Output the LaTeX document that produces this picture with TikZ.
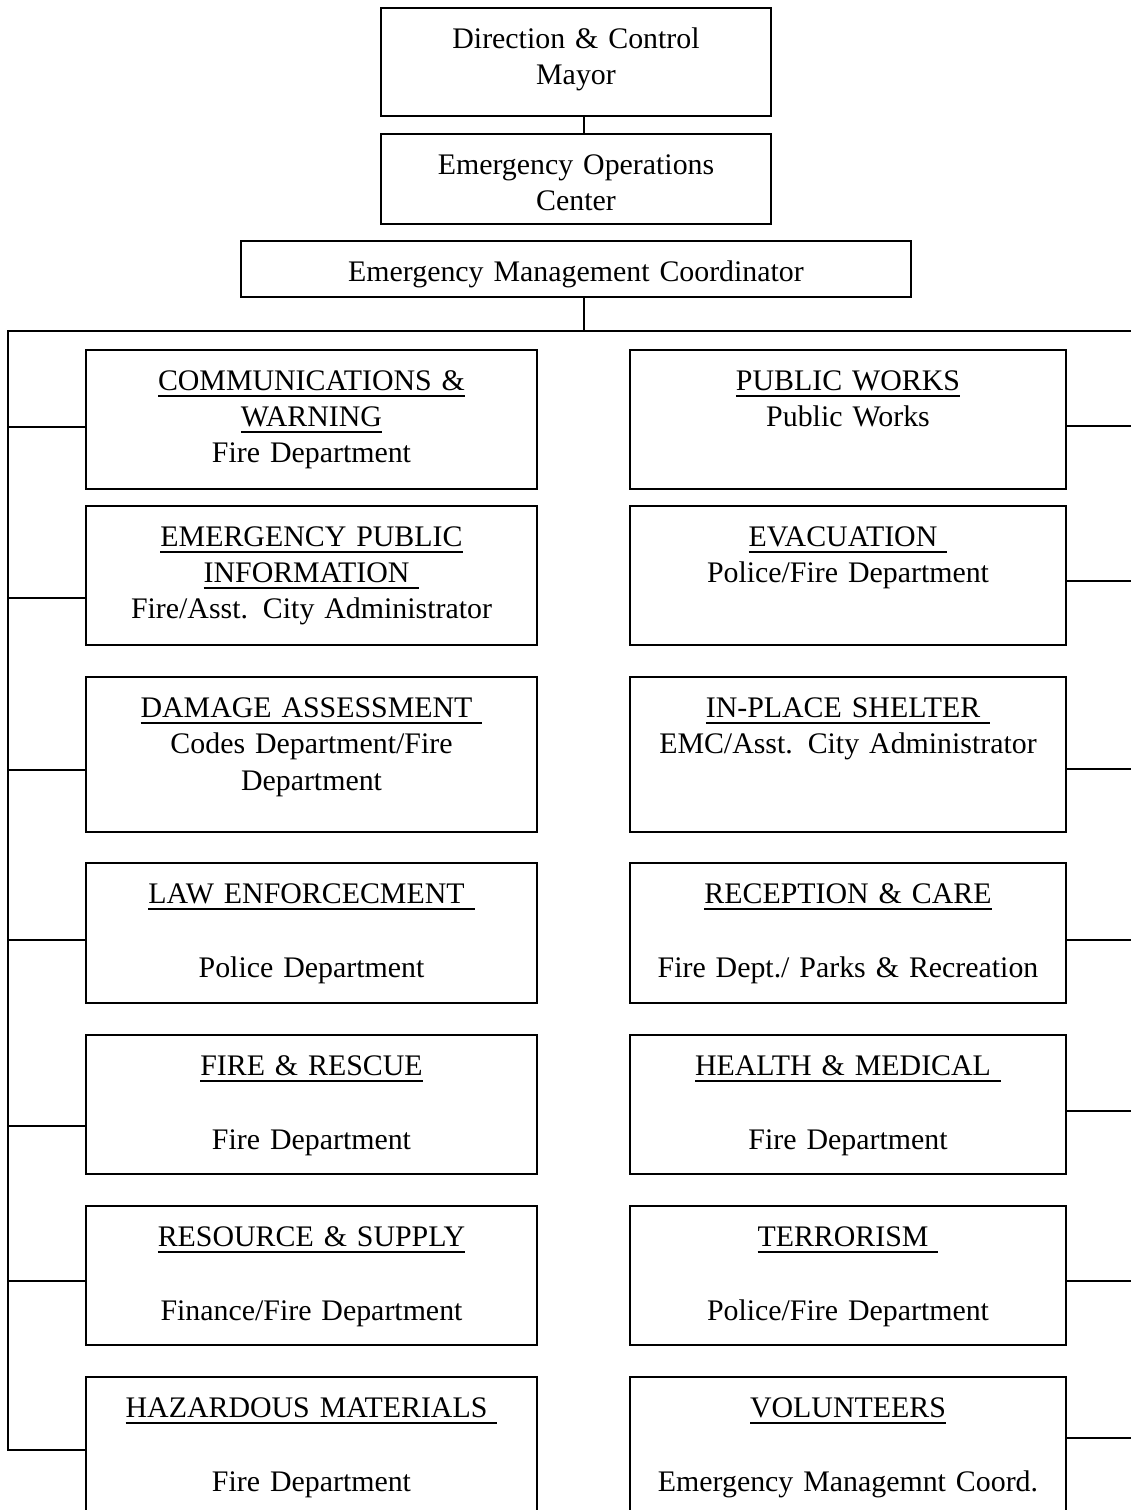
\documentclass[tikz,border=0pt]{standalone}
\usepackage{fontspec}
\setmainfont{Liberation Serif}[WordSpace=1.5]
\usepackage{tikz}
\newcommand{\orgfont}{\fontsize{17}{20.5}\selectfont}
% heavier underline for the unit titles
\newcommand{\titleline}[1]{\leavevmode\setbox0\hbox{#1}\rlap{\rule[-3.4pt]{\wd0}{1.1pt}}\box0}
\tikzset{
  orgbox/.style={draw, line width=1.1pt, inner sep=0pt, anchor=north, align=center, text height=0.82cm},
  leftunit/.style={orgbox, text width=9.02cm},
  rightunit/.style={orgbox, text width=8.72cm},
  link/.style={line width=1pt, line cap=rect},
}

\begin{document}
\begin{tikzpicture}[x=0.02cm, y=-0.02cm, font=\orgfont]
    \useasboundingbox (0,0) rectangle (1131,1510);
    % Direction & Control
    \node[orgbox, text width=7.8cm, text depth=1.34cm] (mayor) at (576,7) {Direction \& Control\\Mayor};
    % EOC
    \node[orgbox, text width=7.8cm, text depth=0.98cm] (eoc) at (576,133) {Emergency Operations\\Center};
    % Coordinator
    \node[orgbox, text width=13.4cm, text depth=0.30cm] (emc) at (576,240) {Emergency Management Coordinator};

    % Left column
    \node[leftunit, text depth=1.96cm] (comm) at (311.5,349) {\titleline{COMMUNICATIONS \&}\\\titleline{WARNING}\\Fire Department};
    \node[leftunit, text depth=1.96cm] (epi) at (311.5,505) {\titleline{EMERGENCY PUBLIC}\\\titleline{INFORMATION\ }\\Fire/Asst. City Administrator};
    \node[leftunit, text depth=2.28cm] (damage) at (311.5,676) {\titleline{DAMAGE ASSESSMENT\ }\\Codes Department/Fire\\Department};
    \node[leftunit, text depth=1.98cm] (law) at (311.5,862) {\titleline{LAW ENFORCECMENT\ }\\[0.76cm]Police Department};
    \node[leftunit, text depth=1.96cm] (fire) at (311.5,1034) {\titleline{FIRE \& RESCUE}\\[0.76cm]Fire Department};
    \node[leftunit, text depth=1.96cm] (resource) at (311.5,1205) {\titleline{RESOURCE \& SUPPLY}\\[0.76cm]Finance/Fire Department};
    \node[leftunit, text depth=1.96cm] (hazmat) at (311.5,1376) {\titleline{HAZARDOUS MATERIALS\ }\\[0.76cm]Fire Department};

    % Right column
    \node[rightunit, text depth=1.96cm] (pw) at (848,349) {\titleline{PUBLIC WORKS}\\Public Works};
    \node[rightunit, text depth=1.96cm] (evac) at (848,505) {\titleline{EVACUATION\ }\\Police/Fire Department};
    \node[rightunit, text depth=2.28cm] (shelter) at (848,676) {\titleline{IN-PLACE SHELTER\ }\\EMC/Asst. City Administrator};
    \node[rightunit, text depth=1.98cm] (reception) at (848,862) {\titleline{RECEPTION \& CARE}\\[0.76cm]Fire Dept./ Parks \& Recreation};
    \node[rightunit, text depth=1.96cm] (health) at (848,1034) {\titleline{HEALTH \& MEDICAL\ }\\[0.76cm]Fire Department};
    \node[rightunit, text depth=1.96cm] (terror) at (848,1205) {\titleline{TERRORISM\ }\\[0.76cm]Police/Fire Department};
    \node[rightunit, text depth=1.96cm] (volunteers) at (848,1376) {\titleline{VOLUNTEERS}\\[0.76cm]Emergency Managemnt Coord.};

    % Connectors
    \coordinate (spine) at (584,0);
    \coordinate (trunkL) at (8,331);
    \coordinate (trunkR) at (1131,331);
    \draw[link] (mayor.south -| spine) -- (eoc.north -| spine);
    \draw[link] (emc.south -| spine) -- (spine |- trunkL);
    \draw[link] (trunkR) -- (trunkL) -- (trunkL |- 0,1450);
    \foreach \unit/\y in {comm/427, epi/598, damage/770, law/940, fire/1126, resource/1281, hazmat/1450}
        \draw[link] (trunkL |- 0,\y) -- (\unit.west |- 0,\y);
    \foreach \unit/\y in {pw/426, evac/581, shelter/769, reception/940, health/1111, terror/1281, volunteers/1438}
        \draw[link] (\unit.east |- 0,\y) -- (trunkR |- 0,\y);
\end{tikzpicture}
\end{document}
